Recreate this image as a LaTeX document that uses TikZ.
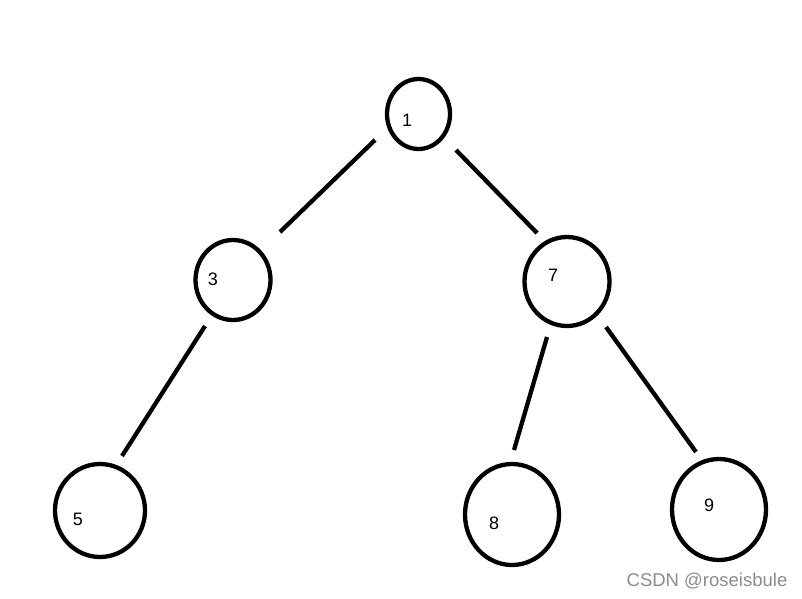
\documentclass[tikz,border=0pt]{standalone}
\usepackage{fontspec}
\setmainfont{Liberation Sans}
\usetikzlibrary{shapes.geometric}
\begin{document}
\begin{tikzpicture}[x=1pt,y=-1pt,
  circ/.style={draw=black,line width=4.3pt,ellipse,inner sep=0pt},
  lbl/.style={font=\fontsize{18}{20}\selectfont,inner sep=0pt,text=black},
  edge/.style={draw=black,line width=4.3pt},
  wm/.style={font=\fontsize{18.5}{21}\selectfont,text=black!45,inner sep=0pt}]
\useasboundingbox[fill=white] (0,0) rectangle (802,598);
% circles
\node[circ,minimum width=63pt,minimum height=70pt] (n1) at (418.5,114) {};
\node[circ,minimum width=75pt,minimum height=80pt] (n3) at (233,280) {};
\node[circ,minimum width=85pt,minimum height=89pt] (n7) at (567,281.5) {};
\node[circ,minimum width=90pt,minimum height=93pt] (n5) at (100,510.5) {};
\node[circ,minimum width=94pt,minimum height=101pt] (n8) at (512,514.5) {};
\node[circ,minimum width=94pt,minimum height=101pt] (n9) at (719,509.5) {};
% labels
\node[lbl] (t1) at (407,120) {1};
\node[lbl] (t3) at (213,279) {3};
\node[lbl] (t7) at (553,275) {7};
\node[lbl] (t5) at (78,519) {5};
\node[lbl] (t8) at (494,523) {8};
\node[lbl] (t9) at (709,505) {9};
% connector ends
\coordinate (a13) at (375,140); \coordinate (b13) at (280,232);
\coordinate (a17) at (456,150); \coordinate (b17) at (537,233);
\coordinate (a35) at (205,326); \coordinate (b35) at (122,456);
\coordinate (a78) at (547,337); \coordinate (b78) at (514,450);
\coordinate (a79) at (606,327); \coordinate (b79) at (696,452);
\draw[edge] (a13) -- (b13);
\draw[edge] (a17) -- (b17);
\draw[edge] (a35) -- (b35);
\draw[edge] (a78) -- (b78);
\draw[edge] (a79) -- (b79);
% watermark
\node[wm] (w) at (707,581) {CSDN @roseisbule};
\end{tikzpicture}
\end{document}
